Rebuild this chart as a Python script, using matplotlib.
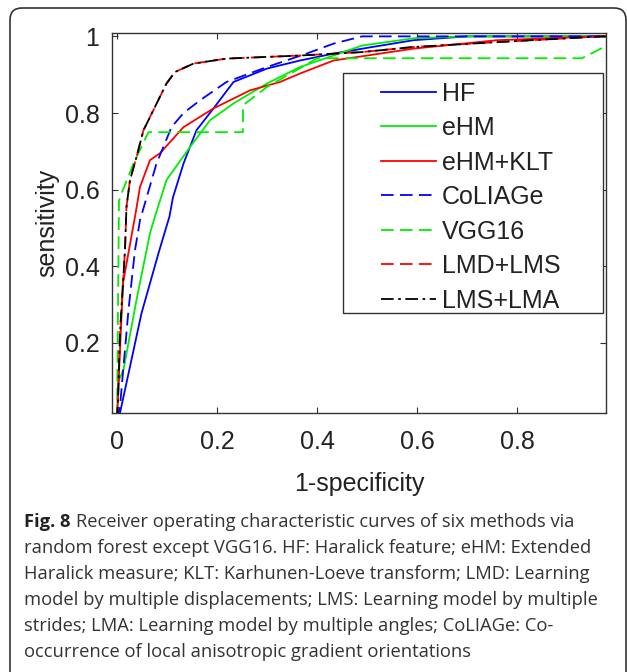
import matplotlib
matplotlib.use("Agg")
import matplotlib.pyplot as plt
from matplotlib.patches import FancyBboxPatch, Rectangle

plt.rcParams['font.family'] = ['Liberation Sans', 'DejaVu Sans']

# ROC data (1-specificity, sensitivity)
hf_x = [0, 0.006, 0.026, 0.049, 0.083, 0.105, 0.112, 0.133, 0.159, 0.193, 0.233, 0.30, 0.366, 0.433, 0.50, 0.593, 0.70, 1.0]
hf_y = [0, 0.017, 0.138, 0.277, 0.434, 0.53, 0.58, 0.668, 0.755, 0.812, 0.881, 0.916, 0.937, 0.955, 0.97, 0.99, 1.0, 1.0]

ehm_x = [0, 0.003, 0.013, 0.039, 0.066, 0.076, 0.099, 0.146, 0.186, 0.233, 0.30, 0.366, 0.433, 0.49, 0.593, 0.70, 1.0]
ehm_y = [0, 0.10, 0.13, 0.312, 0.486, 0.53, 0.625, 0.711, 0.781, 0.825, 0.877, 0.92, 0.95, 0.976, 0.995, 1.0, 1.0]

klt_x = [0, 0.006, 0.012, 0.036, 0.046, 0.066, 0.086, 0.133, 0.193, 0.266, 0.326, 0.366, 0.433, 0.593, 0.76, 0.97, 1.0]
klt_y = [0, 0.181, 0.356, 0.529, 0.607, 0.677, 0.695, 0.763, 0.812, 0.859, 0.881, 0.903, 0.937, 0.968, 0.99, 1.0, 1.0]

coliage_x = [0, 0.006, 0.013, 0.023, 0.036, 0.046, 0.079, 0.109, 0.133, 0.166, 0.219, 0.30, 0.379, 0.433, 0.49, 1.0]
coliage_y = [0, 0.033, 0.138, 0.286, 0.442, 0.52, 0.668, 0.763, 0.80, 0.833, 0.881, 0.92, 0.955, 0.981, 1.0, 1.0]

vgg_x = [0, 0.004, 0.006, 0.033, 0.063, 0.252, 0.252, 0.30, 0.37, 0.40, 0.93, 0.978, 1.0]
vgg_y = [0, 0.57, 0.58, 0.668, 0.75, 0.75, 0.82, 0.868, 0.92, 0.943, 0.943, 0.975, 1.0]

lmd_x = [0, 0.002, 0.006, 0.016, 0.019, 0.026, 0.039, 0.053, 0.099, 0.116, 0.153, 0.219, 0.366, 0.49, 0.59, 0.76, 0.97, 1.0]
lmd_y = [0, 0.05, 0.225, 0.442, 0.555, 0.625, 0.685, 0.755, 0.877, 0.907, 0.929, 0.942, 0.95, 0.959, 0.972, 0.985, 1.0, 1.0]

lma_x = [0, 0.002, 0.006, 0.016, 0.019, 0.026, 0.039, 0.053, 0.099, 0.116, 0.153, 0.219, 0.366, 0.49, 0.59, 0.76, 0.97, 1.0]
lma_y = [0, 0.05, 0.225, 0.442, 0.555, 0.625, 0.685, 0.755, 0.877, 0.907, 0.929, 0.942, 0.95, 0.959, 0.972, 0.985, 1.0, 1.0]

x_ticks = [0, 0.2, 0.4, 0.6, 0.8]
y_ticks = [0.2, 0.4, 0.6, 0.8, 1]

caption_lines = [
    "Receiver operating characteristic curves of six methods via",
    "random forest except VGG16. HF: Haralick feature; eHM: Extended",
    "Haralick measure; KLT: Karhunen-Loeve transform; LMD: Learning",
    "model by multiple displacements; LMS: Learning model by multiple",
    "strides; LMA: Learning model by multiple angles; CoLIAGe: Co-",
    "occurrence of local anisotropic gradient orientations",
]

fig = plt.figure(figsize=(6.27, 6.72), dpi=100)
ax = fig.add_axes([0.1786, 0.3854, 0.7879, 0.5656])

lw = 1.3
ax.plot(hf_x, hf_y, color="#0000ff", lw=lw, label="HF")
ax.plot(ehm_x, ehm_y, color="#00ee00", lw=lw, label="eHM")
ax.plot(klt_x, klt_y, color="#ff0000", lw=lw, label="eHM+KLT")
ax.plot(coliage_x, coliage_y, color="#0000ff", lw=lw, dashes=(7, 3.5), label="CoLIAGe")
ax.plot(vgg_x, vgg_y, color="#00ee00", lw=lw, dashes=(7, 3.5), label="VGG16")
ax.plot(lmd_x, lmd_y, color="#ff0000", lw=lw, dashes=(7, 3.5), label="LMD+LMS")
ax.plot(lma_x, lma_y, color="#000000", lw=lw, dashes=(7, 2.5, 1.5, 2.5), label="LMS+LMA")

ax.set_xlim(-0.01, 0.978)
ax.set_ylim(0.017, 1.009)
ax.set_xticks(x_ticks)
ax.set_xticklabels(["0", "0.2", "0.4", "0.6", "0.8"])
ax.set_yticks(y_ticks)
ax.set_yticklabels(["0.2", "0.4", "0.6", "0.8", "1"])
ax.tick_params(direction="in", length=4, width=0.8, top=True, right=True,
               labelsize=18, colors="#333333", pad=9)
ax.tick_params(axis="x", pad=12)
for tl in ax.get_xticklabels() + ax.get_yticklabels():
    tl.set_color("#222222")
for sp in ax.spines.values():
    sp.set_color("#333333")
    sp.set_linewidth(1.0)

ax.set_xlabel("1-specificity", fontsize=18, color="#222222", labelpad=13)
ax.set_ylabel("sensitivity", fontsize=18, color="#222222", labelpad=4)

# legend frame drawn separately so the padding matches
ax.add_patch(Rectangle((0.4676, 0.263), 0.526, 0.632, transform=ax.transAxes,
                       facecolor="white", edgecolor="#333333", lw=1.0, zorder=5))
leg = ax.legend(loc="upper left", bbox_to_anchor=(0.5445, 0.872), frameon=False,
                fontsize=18, handlelength=2.2, handletextpad=0.25, labelspacing=0.42,
                borderpad=0, borderaxespad=0)
leg.set_zorder(6)
for t in leg.get_texts():
    t.set_color("#222222")

# rounded border around the whole panel
fig.patches.append(FancyBboxPatch((0.10, -0.3), 6.16, 6.94, boxstyle="round,pad=0,rounding_size=0.12",
                                  transform=fig.dpi_scale_trans, facecolor="none",
                                  edgecolor="#333333", lw=1.2))

cap_font = ['Open Sans', 'DejaVu Sans']
cap_size = 13.2
y0 = 1 - 522 / 672
step = 26 / 672
bold = fig.text(24 / 627, y0, "Fig. 8", fontsize=cap_size, family=cap_font, weight="bold",
                va="center", color="#222222")
fig.canvas.draw()
bb = bold.get_window_extent()
fig.text((bb.x1 + 6) / 627, y0, caption_lines[0], fontsize=cap_size, family=cap_font,
         va="center", color="#333333")
for i, line in enumerate(caption_lines[1:], start=1):
    fig.text(24 / 627, y0 - i * step, line, fontsize=cap_size, family=cap_font,
             va="center", color="#333333")

fig.savefig("out.png", dpi=100)
